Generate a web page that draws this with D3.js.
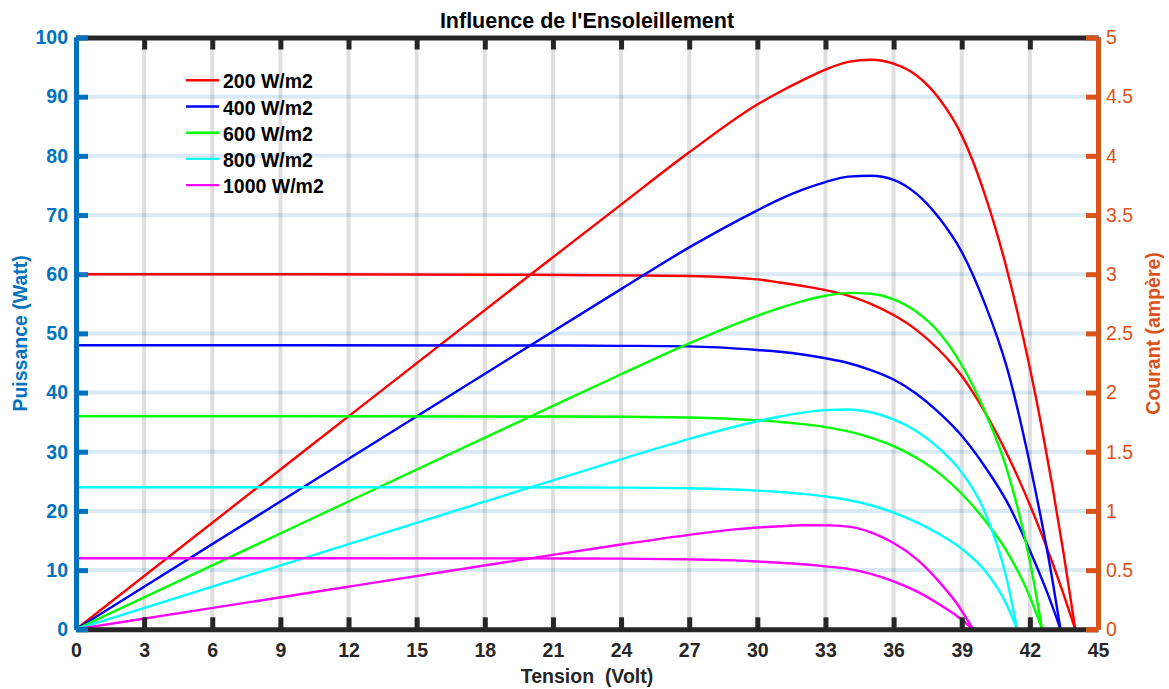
<!DOCTYPE html>
<html>
<head>
<meta charset="utf-8">
<script src="https://cdn.jsdelivr.net/npm/d3@7"></script>
<style>
  body { margin: 0; background: #fff; }
  svg { display: block; font-family: "Liberation Sans", Arial, sans-serif; }
</style>
</head>
<body>
<svg id="chart" width="1169" height="689"></svg>
<script>
// legend labels (order as in the figure)
const irradiance = ['200 W/m2', '400 W/m2', '600 W/m2', '800 W/m2', '1000 W/m2'];

// tick values
const voltTicks = d3.range(0, 46, 3);
const powerTicks = d3.range(0, 101, 10);
const currentTicks = d3.range(0, 5.01, 0.5);

// tension (V), courant (A), puissance (W)
const voltage200 = [0, 10, 20, 24, 27, 30, 31, 32, 33, 34, 35, 36, 37, 38, 39, 39.5, 40, 40.5, 41, 41.5, 42, 42.5, 43, 43.5, 44];
const current200 = [3.0, 3.0, 2.995, 2.99, 2.985, 2.956, 2.93, 2.9, 2.866, 2.82, 2.75, 2.655, 2.53, 2.36, 2.14, 2.0, 1.842, 1.669, 1.479, 1.273, 1.051, 0.813, 0.558, 0.287, 0];
const power200 = [0, 30, 59.9, 71.76, 80.6, 88.68, 90.83, 92.8, 94.58, 95.88, 96.25, 95.58, 93.61, 89.68, 83.46, 79.0, 73.68, 67.59, 60.64, 52.83, 44.14, 34.55, 23.99, 12.48, 0];

const voltage400 = [0, 10, 20, 24, 27, 30, 31, 32, 33, 34, 35, 36, 37, 38, 39, 40, 41, 42, 43, 43.35];
const current400 = [2.4, 2.4, 2.398, 2.395, 2.39, 2.36, 2.345, 2.322, 2.29, 2.25, 2.19, 2.11, 1.99, 1.83, 1.635, 1.38, 1.075, 0.665, 0.19, 0];
const power400 = [0, 24, 47.96, 57.48, 64.53, 70.8, 72.7, 74.3, 75.57, 76.5, 76.65, 75.96, 73.63, 69.54, 63.77, 55.2, 44.08, 27.93, 8.17, 0];

const voltage600 = [0, 10, 20, 24, 27, 30, 31, 32, 33, 34, 35, 36, 37, 38, 39, 40, 41, 42, 42.54];
const current600 = [1.8, 1.8, 1.798, 1.796, 1.79, 1.766, 1.752, 1.733, 1.708, 1.672, 1.62, 1.548, 1.45, 1.32, 1.145, 0.925, 0.655, 0.275, 0];
const power600 = [0, 18, 35.96, 43.1, 48.33, 52.98, 54.31, 55.46, 56.36, 56.85, 56.7, 55.73, 53.65, 50.16, 44.66, 37.0, 26.86, 11.55, 0];

const voltage800 = [0, 10, 20, 24, 27, 30, 31, 32, 33, 34, 35, 36, 37, 38, 39, 40, 41, 41.44];
const current800 = [1.2, 1.2, 1.199, 1.197, 1.192, 1.172, 1.16, 1.144, 1.122, 1.092, 1.048, 0.985, 0.905, 0.805, 0.68, 0.5, 0.2, 0];
const power800 = [0, 12, 23.98, 28.73, 32.18, 35.16, 35.96, 36.61, 37.03, 37.13, 36.68, 35.46, 33.49, 30.59, 26.52, 20.0, 8.2, 0];

const voltage1000 = [0, 10, 20, 24, 27, 29, 30, 31, 32, 33, 34, 35, 36, 37, 38, 38.8, 39.5];
const current1000 = [0.6, 0.6, 0.599, 0.597, 0.591, 0.582, 0.573, 0.562, 0.549, 0.532, 0.51, 0.468, 0.405, 0.322, 0.212, 0.11, 0];
const power1000 = [0, 6, 11.98, 14.33, 15.96, 16.88, 17.19, 17.42, 17.57, 17.56, 17.34, 16.38, 14.58, 11.91, 8.06, 4.27, 0];

const seriesColors = ['#ff0000', '#0000ff', '#00ff00', '#00ffff', '#ff00ff'];

const series = [
  { v: voltage200, i: current200, p: power200 },
  { v: voltage400, i: current400, p: power400 },
  { v: voltage600, i: current600, p: power600 },
  { v: voltage800, i: current800, p: power800 },
  { v: voltage1000, i: current1000, p: power1000 }
];

// layout
const plotLeft = 76, plotRight = 1098, plotTop = 37.5, plotBottom = 629.3;
const blue = '#0072bd', orange = '#d95319', dark = '#262626';

const svg = d3.select('#chart');

const x = d3.scaleLinear().domain([0, 45]).range([plotLeft, plotRight]);
const yP = d3.scaleLinear().domain([0, 100]).range([plotBottom, plotTop]);
const yI = d3.scaleLinear().domain([0, 5]).range([plotBottom, plotTop]);

// grid
svg.append('g')
  .selectAll('line')
  .data(voltTicks.filter(d => d > 0 && d < 45))
  .join('line')
  .attr('x1', d => x(d)).attr('x2', d => x(d))
  .attr('y1', plotTop).attr('y2', plotBottom)
  .attr('stroke', dark).attr('stroke-opacity', 0.15).attr('stroke-width', 4);

svg.append('g')
  .selectAll('line')
  .data(powerTicks.filter(d => d > 0 && d < 100))
  .join('line')
  .attr('x1', plotLeft).attr('x2', plotRight)
  .attr('y1', d => yP(d)).attr('y2', d => yP(d))
  .attr('stroke', blue).attr('stroke-opacity', 0.15).attr('stroke-width', 4);

// curves
svg.append('clipPath').attr('id', 'plot')
  .append('rect')
  .attr('x', plotLeft).attr('y', plotTop)
  .attr('width', plotRight - plotLeft).attr('height', plotBottom - plotTop);

const curves = svg.append('g').attr('clip-path', 'url(#plot)');

const powerLine = d3.line()
  .x(d => x(d[0]))
  .y(d => yP(d[1]))
  .curve(d3.curveMonotoneX);

const currentLine = d3.line()
  .x(d => x(d[0]))
  .y(d => yI(d[1]))
  .curve(d3.curveMonotoneX);

series.forEach((s, k) => {
  curves.append('path')
    .attr('d', powerLine(s.v.map((v, j) => [v, s.p[j]])))
    .attr('fill', 'none')
    .attr('stroke', seriesColors[k])
    .attr('stroke-width', 2.4);
  curves.append('path')
    .attr('d', currentLine(s.v.map((v, j) => [v, s.i[j]])))
    .attr('fill', 'none')
    .attr('stroke', seriesColors[k])
    .attr('stroke-width', 2.4);
});

// axes
const fontSize = 19.5;

const xAxis = svg.append('g')
  .attr('transform', `translate(0,${plotBottom})`)
  .call(d3.axisBottom(x).tickValues(voltTicks).tickSize(-12).tickSizeOuter(0).tickPadding(14));

const xTop = svg.append('g')
  .attr('transform', `translate(0,${plotTop})`)
  .call(d3.axisTop(x).tickValues(voltTicks).tickSize(-12).tickSizeOuter(0).tickFormat(''));

[xAxis, xTop].forEach(g => {
  g.select('.domain').attr('stroke', dark).attr('stroke-width', 5);
  g.selectAll('.tick line').attr('stroke', dark).attr('stroke-width', 5);
});
xAxis.selectAll('.tick text')
  .attr('fill', dark)
  .attr('font-size', fontSize)
  .attr('font-weight', 'bold');

const yLeft = svg.append('g')
  .attr('transform', `translate(${plotLeft},0)`)
  .call(d3.axisLeft(yP).tickValues(powerTicks).tickSize(-12).tickSizeOuter(0).tickPadding(8));
yLeft.select('.domain').attr('stroke', blue).attr('stroke-width', 5);
yLeft.selectAll('.tick line').attr('stroke', blue).attr('stroke-width', 5);
yLeft.selectAll('.tick text')
  .attr('fill', blue)
  .attr('font-size', fontSize)
  .attr('font-weight', 'bold');

const yRight = svg.append('g')
  .attr('transform', `translate(${plotRight},0)`)
  .call(d3.axisRight(yI).tickValues(currentTicks).tickSize(-12).tickSizeOuter(0).tickPadding(8)
    .tickFormat(d3.format('~g')));
yRight.select('.domain').attr('stroke', orange).attr('stroke-width', 5);
yRight.selectAll('.tick line').attr('stroke', orange).attr('stroke-width', 5);
yRight.selectAll('.tick text')
  .attr('fill', orange)
  .attr('font-size', fontSize);

// titles
svg.append('text')
  .attr('x', (plotLeft + plotRight) / 2).attr('y', 28)
  .attr('text-anchor', 'middle')
  .attr('font-size', 21.5).attr('font-weight', 'bold')
  .text("Influence de l'Ensoleillement");

svg.append('text')
  .attr('x', (plotLeft + plotRight) / 2).attr('y', 683)
  .attr('text-anchor', 'middle')
  .style('white-space', 'pre')
  .attr('fill', dark)
  .attr('font-size', fontSize).attr('font-weight', 'bold')
  .text('Tension  (Volt)');

svg.append('text')
  .attr('transform', `translate(27,${(plotTop + plotBottom) / 2}) rotate(-90)`)
  .attr('text-anchor', 'middle')
  .attr('fill', blue)
  .attr('font-size', fontSize).attr('font-weight', 'bold')
  .text('Puissance (Watt)');

svg.append('text')
  .attr('transform', `translate(1160,${(plotTop + plotBottom) / 2}) rotate(-90)`)
  .attr('text-anchor', 'middle')
  .attr('fill', orange)
  .attr('font-size', fontSize).attr('font-weight', 'bold')
  .text('Courant (ampère)');

// legend
const legend = svg.append('g');
irradiance.forEach((label, k) => {
  const ly = 80.3 + k * 26.2;
  legend.append('line')
    .attr('x1', 186).attr('x2', 219)
    .attr('y1', ly).attr('y2', ly)
    .attr('stroke', seriesColors[k]).attr('stroke-width', 2.4);
  legend.append('text')
    .attr('x', 223).attr('y', ly + 8)
    .attr('font-size', fontSize).attr('font-weight', 'bold')
    .text(label);
});
</script>
</body>
</html>
